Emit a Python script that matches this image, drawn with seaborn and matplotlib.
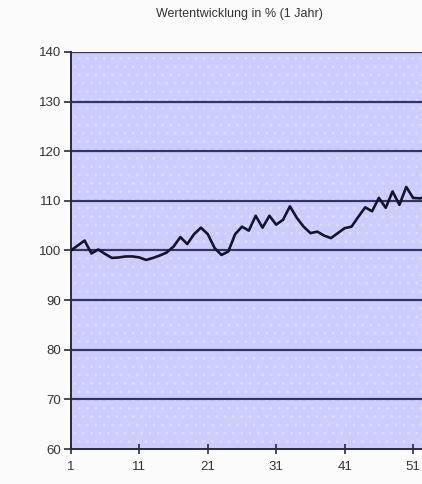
import numpy as np
import pandas as pd
import seaborn as sns
import matplotlib.pyplot as plt

# Weekly performance over one year, indexed to 100
weeks = list(range(1, 54))
values = [100.0, 101.0, 102.0, 99.4, 100.2, 99.3, 98.5, 98.6, 98.8, 98.8,
          98.6, 98.1, 98.5, 99.0, 99.6, 100.8, 102.7, 101.3, 103.3, 104.6,
          103.3, 100.5, 99.1, 99.8, 103.3, 104.8, 104.0, 107.0, 104.6, 107.0,
          105.2, 106.2, 108.9, 106.6, 104.8, 103.5, 103.8, 103.0, 102.5, 103.5,
          104.5, 104.8, 106.8, 108.7, 107.9, 110.6, 108.6, 111.9, 109.2, 112.8,
          110.6, 110.5, 110.9]
y_ticks = [60, 70, 80, 90, 100, 110, 120, 130, 140]
x_ticks = [1, 11, 21, 31, 41, 51]
title = "Wertentwicklung in % (1 Jahr)"

df = pd.DataFrame({"Woche": weeks, "Wert": values})

sns.set_theme(style="white")
plt.rcParams["font.family"] = ["Liberation Sans", "DejaVu Sans"]

fig = plt.figure(figsize=(4.22, 4.84), dpi=100)
fig.patch.set_facecolor("#fbfbfb")
ax = fig.add_axes([0.168, 0.0723, 0.832, 0.8203])
ax.set_facecolor("#ccccff")

# dotted pattern of the plot area
ax.add_patch(plt.Rectangle((0, 0), 1, 1, transform=ax.transAxes,
                           facecolor="none", edgecolor="#dcdcff",
                           hatch="..", lw=0, zorder=0.5))

for v in y_ticks[1:]:
    ax.axhline(v, color="#34345e", lw=1.6, zorder=1)

sns.lineplot(data=df, x="Woche", y="Wert", ax=ax, color="#14142a",
             lw=1.9, zorder=3)

ax.set_xlim(1, 52.3)
ax.set_ylim(60, 140)
ax.set_yticks(y_ticks)
ax.set_xticks(x_ticks)
ax.set_xlabel("")
ax.set_ylabel("")

for s in ["top", "right"]:
    ax.spines[s].set_visible(False)
for s in ["left", "bottom"]:
    ax.spines[s].set_color("#2a2a40")
    ax.spines[s].set_linewidth(1.4)

ax.tick_params(axis="y", direction="out", length=5, width=1.2,
               color="#2a2a40", labelsize=9.5, labelcolor="#333333", pad=2,
               left=True)
ax.tick_params(axis="x", direction="inout", length=7, width=1.2,
               color="#2a2a40", labelsize=9.5, labelcolor="#333333", pad=5,
               bottom=True)

fig.text(0.568, 0.972, title, ha="center", va="center", fontsize=9,
         color="#333333")

fig.savefig("out.png", dpi=100, facecolor=fig.get_facecolor())
